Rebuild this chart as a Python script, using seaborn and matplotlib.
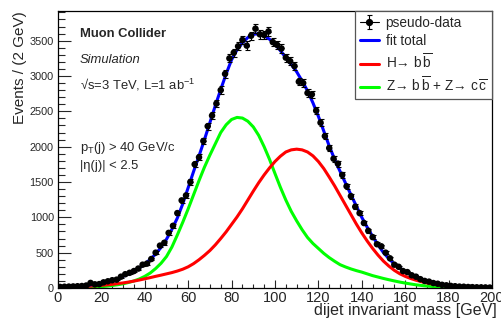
import numpy as np
import pandas as pd
import seaborn as sns
import matplotlib.pyplot as plt
from matplotlib.lines import Line2D
from matplotlib.legend_handler import HandlerTuple
from matplotlib.ticker import MultipleLocator

# pseudo-data: events per 2 GeV bin (bin centres 1, 3, ..., 199)
bin_centres = np.arange(1, 200, 2)
events = [
    15, 18, 20, 22, 25, 28, 35, 72, 52, 55,
    80, 95, 110, 118, 160, 195, 215, 240, 275, 330,
    345, 410, 500, 600, 640, 780, 880, 1060, 1240, 1310,
    1500, 1750, 1850, 2080, 2290, 2440, 2610, 2800, 3030, 3250,
    3330, 3420, 3510, 3430, 3570, 3670, 3590, 3580, 3630, 3480,
    3440, 3390, 3260, 3210, 3140, 2920, 2900, 2760, 2740, 2510,
    2340, 2150, 1980, 1830, 1760, 1600, 1440, 1300, 1150, 1060,
    920, 810, 720, 620, 590, 500, 420, 330, 300, 240,
    225, 180, 160, 125, 100, 90, 70, 60, 45, 38,
    30, 25, 20, 18, 14, 12, 10, 9, 8, 6,
]

# fitted curves, read every 2.5 GeV
curve_mass = np.arange(0, 200.1, 2.5)
fit_total = [
    12, 15, 18, 21, 25, 32, 45, 53, 65, 82,
    105, 132, 165, 200, 240, 285, 340, 405, 480, 575,
    690, 830, 990, 1190, 1420, 1650, 1870, 2100, 2340, 2580,
    2810, 3030, 3230, 3370, 3470, 3545, 3590, 3600, 3570, 3520,
    3450, 3360, 3260, 3165, 3060, 2930, 2790, 2620, 2430, 2220,
    2010, 1820, 1650, 1485, 1320, 1160, 1000, 860, 730, 610,
    500, 415, 340, 282, 235, 195, 160, 128, 100, 79,
    62, 48, 36, 28, 22, 18, 14, 11, 9, 7, 6,
]
h_bb = [
    8, 10, 12, 15, 18, 22, 26, 32, 38, 45,
    52, 62, 72, 84, 98, 113, 130, 147, 165, 182,
    200, 218, 240, 266, 300, 345, 400, 462, 530, 610,
    700, 795, 900, 1005, 1120, 1245, 1370, 1490, 1600, 1700,
    1790, 1865, 1925, 1955, 1965, 1955, 1925, 1870, 1790, 1690,
    1570, 1445, 1310, 1175, 1040, 905, 780, 665, 560, 465,
    380, 310, 250, 202, 165, 135, 110, 90, 72, 57,
    45, 35, 26, 20, 16, 13, 10, 8, 6, 5, 4,
]
z_qq = [
    1, 1, 2, 3, 5, 7, 10, 14, 19, 26,
    35, 46, 60, 78, 100, 128, 165, 212, 275, 350,
    445, 580, 750, 930, 1120, 1320, 1520, 1710, 1880, 2040,
    2200, 2310, 2385, 2414, 2405, 2360, 2280, 2160, 2000, 1820,
    1620, 1425, 1245, 1085, 950, 825, 715, 630, 560, 490,
    430, 378, 330, 298, 270, 246, 225, 200, 175, 155,
    135, 117, 100, 84, 70, 57, 45, 36, 28, 22,
    17, 13, 10, 8, 6, 5, 4, 3, 2, 2, 1,
]

df_data = pd.DataFrame({"mass": bin_centres, "events": events})
df_fit = pd.DataFrame({"mass": curve_mass, "total": fit_total, "H": h_bb, "Z": z_qq})

sns.set_theme(style="ticks")
plt.rcParams["font.family"] = ["Liberation Sans", "DejaVu Sans"]
plt.rcParams["mathtext.fontset"] = "custom"
plt.rcParams["mathtext.rm"] = "Liberation Sans"
plt.rcParams["mathtext.it"] = "Liberation Sans:italic"
plt.rcParams["mathtext.bf"] = "Liberation Sans:bold"

fig = plt.figure(figsize=(5.02, 3.21), dpi=100)
ax = fig.add_axes([0.1155, 0.1028, 0.8645, 0.8629])

# curves
sns.lineplot(data=df_fit, x="mass", y="Z", color="#00ff00", lw=2.2, ax=ax, estimator=None)
sns.lineplot(data=df_fit, x="mass", y="H", color="#ff0000", lw=2.2, ax=ax, estimator=None)
sns.lineplot(data=df_fit, x="mass", y="total", color="#0000ff", lw=2.2, ax=ax, estimator=None)

# pseudo-data with Poisson errors
err = np.sqrt(df_data["events"])
ax.errorbar(df_data["mass"], df_data["events"], xerr=1.0, fmt="none",
            ecolor="black", elinewidth=0.8, capsize=0, zorder=4)
eb = ax.errorbar(df_data["mass"], df_data["events"], yerr=err, fmt="none",
                 ecolor="black", elinewidth=0.8, capsize=1.8, capthick=0.8, zorder=4)
sns.scatterplot(data=df_data, x="mass", y="events", color="black", s=22,
                edgecolor="none", ax=ax, zorder=5)

ax.set_xlim(0, 200)
ax.set_ylim(0, 3920)
ax.xaxis.set_major_locator(MultipleLocator(20))
ax.xaxis.set_minor_locator(MultipleLocator(5))
ax.yaxis.set_major_locator(MultipleLocator(500))
ax.yaxis.set_minor_locator(MultipleLocator(100))
ax.tick_params(axis="x", which="major", direction="in", length=5.8, width=0.8, labelsize=10.5, pad=2.5)
ax.tick_params(axis="x", which="minor", direction="in", length=2.9, width=0.8)
ax.tick_params(axis="y", which="major", direction="in", length=9.4, width=0.8, labelsize=7.8, pad=3)
ax.tick_params(axis="y", which="minor", direction="in", length=4.8, width=0.8)
for s in ax.spines.values():
    s.set_color("black")
    s.set_linewidth(0.9)

ax.set_xlabel("dijet invariant mass [GeV]", fontsize=11.5, loc="right")
ax.set_ylabel("Events / (2 GeV)", fontsize=11, loc="top")
ax.xaxis.set_label_coords(1.012, -0.054)
ax.yaxis.set_label_coords(-0.072, 1.0)

# labels
ax.text(0.0507, 0.917, "Muon Collider", transform=ax.transAxes, fontsize=9.4,
        fontweight="bold", va="center")
ax.text(0.0507, 0.823, "Simulation", transform=ax.transAxes, fontsize=9.4,
        style="italic", va="center")
ax.text(0.0507, 0.733, r"√s=3 TeV, L=1 ab$^{-1}$", transform=ax.transAxes,
        fontsize=9.4, va="center")
ax.text(0.0507, 0.505, r"p$_{\mathrm{T}}$(j) > 40 GeV/c", transform=ax.transAxes,
        fontsize=9.4, va="center")
ax.text(0.0507, 0.44, "|η(j)| < 2.5", transform=ax.transAxes, fontsize=9.4, va="center")

# legend
handles = [
    (Line2D([], [], color="black", lw=0.8), eb,
     Line2D([], [], color="black", marker="o", ms=4.2, ls="none")),
    Line2D([], [], color="#0000ff", lw=2.2),
    Line2D([], [], color="#ff0000", lw=2.2),
    Line2D([], [], color="#00ff00", lw=2.2),
]
labels = [
    "pseudo-data",
    "fit total",
    r"H→ b$\,\overline{\mathrm{b}}$",
    r"Z→ b$\,\overline{\mathrm{b}}$ + Z→ c$\,\overline{\mathrm{c}}$",
]
leg = ax.legend(handles, labels, loc="upper right", bbox_to_anchor=(1.0, 1.0),
                borderaxespad=0, fontsize=9.8, handlelength=1.4, handletextpad=0.5,
                labelspacing=0.3, borderpad=0.35, fancybox=False, framealpha=1,
                edgecolor="#555555", handler_map={tuple: HandlerTuple(ndivide=1)})
leg.get_frame().set_linewidth(0.9)

fig.savefig("out.png", dpi=100)
